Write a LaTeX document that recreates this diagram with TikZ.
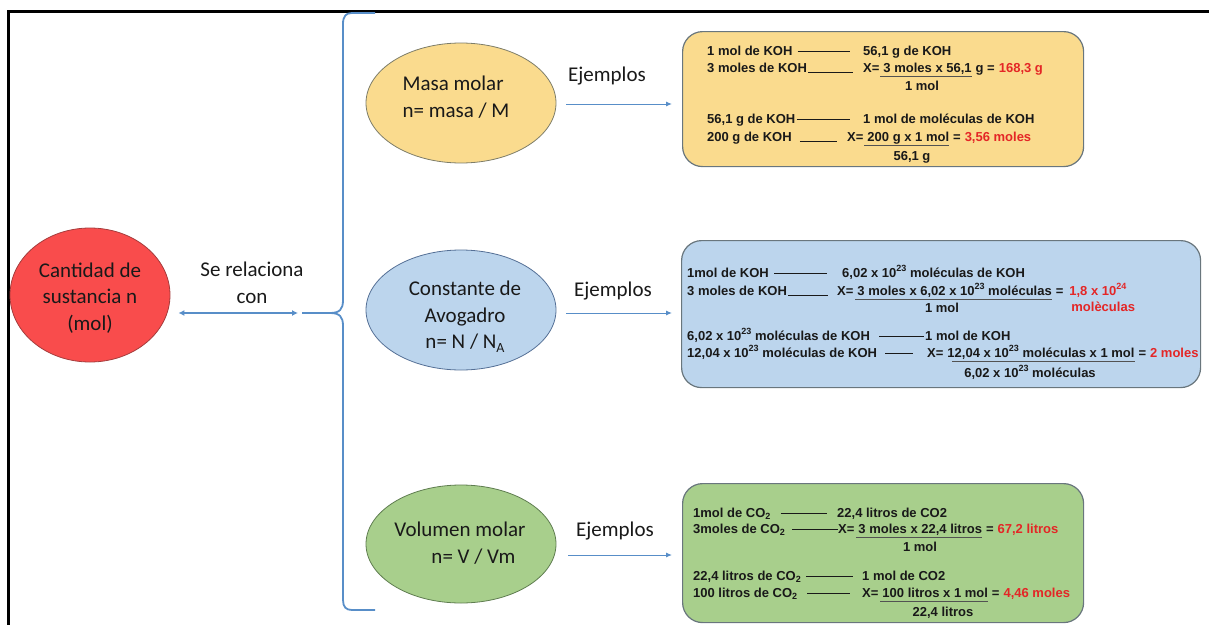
\documentclass[tikz,border=0pt]{standalone}
\usepackage{fontspec}
\setmainfont{Carlito}
\newfontfamily\arial{Liberation Sans}
\usetikzlibrary{shapes.geometric,arrows.meta}
\definecolor{redfill}{RGB}{249,76,76}
\definecolor{redline}{RGB}{165,60,60}
\definecolor{yelfill}{RGB}{250,219,142}
\definecolor{yelline}{RGB}{125,125,105}
\definecolor{blufill}{RGB}{188,213,237}
\definecolor{bluline}{RGB}{85,112,150}
\definecolor{grnfill}{RGB}{168,207,140}
\definecolor{grnline}{RGB}{95,125,80}
\definecolor{boxgray}{RGB}{105,118,125}
\definecolor{linkblue}{RGB}{88,142,200}
\definecolor{resred}{RGB}{228,38,38}
\definecolor{txt}{RGB}{25,25,25}
\newcommand\supx[1]{\raisebox{0.42em}{\fontsize{9}{9}\selectfont #1}}
\newcommand\subx[1]{\raisebox{-0.22em}{\fontsize{9}{9}\selectfont #1}}
\newcommand\tsp{\ \null}
\begin{document}
\begin{tikzpicture}[x=1pt,y=-1pt,
  ell/.style={ellipse, inner sep=0, line width=0.8pt, minimum width=190pt, minimum height=120pt},
  lbl/.style={font=\fontsize{21}{26.5}\selectfont, text=txt, inner sep=0, align=center},
  exbox/.style={rounded corners=20pt, line width=1.2pt, draw=boxgray, inner sep=0, anchor=north west},
  t/.style={anchor=base west, inner sep=0, font=\arial\bfseries\fontsize{13}{15}\selectfont, text=txt},
  tc/.style={t, anchor=base},
  res/.style={t, text=resred},
  rl/.style={line width=0.8pt, draw=txt},
  fl/.style={line width=0.7pt, draw=txt!75},
  conn/.style={draw=linkblue, line width=1pt, -{Latex[length=6pt,width=5pt]}},
  brace/.style={draw=linkblue, line width=1.8pt, line join=round}]
\useasboundingbox (0,0) rectangle (1209,624);
% frame
\draw[line width=2.6pt] (8.5,630) -- (8.5,11.5) -- (1215,11.5);

% left ellipse
\node[ell, fill=redfill, draw=redline, minimum width=160pt, minimum height=134pt] (cant) at (90,295) {};
\node[lbl] (cantT) at (90,298) {Cantidad de\\sustancia n\\(mol)};
\node[lbl] (rel) at (252,283) {Se relaciona\\con};

% brace
\coordinate (btip) at (302,313);
\draw[brace] (375,13) -- (352,13) .. controls (346,13) and (343,16) .. (343,24) -- (343,300)
  .. controls (343,309) and (340,313) .. (330,313) -- (btip);
\draw[brace] (330,313) .. controls (340,313) and (343,317) .. (343,326) -- (343,600)
  .. controls (343,607) and (346,610) .. (352,610) -- (375,610);
\draw[draw=linkblue, line width=1.5pt, {Latex[length=6pt,width=6pt]}-{Latex[length=6pt,width=6pt]}]
  ([shift={(8pt,-18pt)}]cant.east) -- ([xshift=-4pt]btip);

% ellipses
\node[ell, fill=yelfill, draw=yelline] (masa) at (461,103) {};
\node[lbl, align=left] (masaT) at (456,97) {Masa molar\\n= masa / M};
\node[ell, fill=blufill, draw=bluline] (avo) at (461,310) {};
\node[lbl] (avoT) at (465,317) {Constante de\\Avogadro\\n= N / N\raisebox{-0.2em}{\fontsize{14}{14}\selectfont A}};
\node[ell, fill=grnfill, draw=grnline, minimum height=118pt] (vol) at (461,544) {};
\node[lbl, align=left] (volT) at (460,543) {Volumen molar\\\hspace*{37pt}n= V / Vm};

% boxes
\node[exbox, fill=yelfill, minimum width=401pt, minimum height=135pt] (ybox) at (682,31) {};
\node[exbox, fill=blufill, minimum width=519pt, minimum height=147pt] (bbox) at (681,240) {};
\node[exbox, fill=grnfill, minimum width=401pt, minimum height=139pt] (gbox) at (682,483) {};

% Ejemplos
\node[lbl] (ej1) at (607,76) {Ejemplos};
\node[lbl] (ej2) at (613,291) {Ejemplos};
\node[lbl] (ej3) at (615,531) {Ejemplos};
\draw[conn] ([shift={(10pt,-1pt)}]masa.east) -- ([shift={(-10pt,-1pt)}]masa.east -| ybox.west);
\draw[conn] ([shift={(10pt,-3pt)}]avo.east) -- ([shift={(-9pt,-3pt)}]avo.east -| bbox.west);
\draw[conn] ([shift={(12pt,-11pt)}]vol.east) -- ([shift={(-10pt,-11pt)}]vol.east -| gbox.west);

% ---- yellow box text
\node[t] (y1a) at (707,55) {1 mol de KOH};
\node[t] (y1b) at (863,55) {56,1 g de KOH};
\draw[rl] ([shift={(5pt,4pt)}]y1a.base east) -- ([shift={(-13pt,4pt)}]y1b.base west);
\node[t] (y2a) at (707,72) {3 moles de KOH};
\node[t] (y2x) at (863,72) {X=\tsp};
\node[t] (y2n) at (y2x.base east) {3 moles x 56,1};
\node[t] (y2c) at (y2n.base east) {\ g =\tsp};
\node[res] (y2r) at (y2c.base east) {168,3 g};
\draw[rl] ([xshift=1pt]y2a.base east) -- ([xshift=-10pt]y2x.base west);
\draw[fl] ([shift={(-3pt,-4.5pt)}]y2n.base west) -- ([yshift=-4.5pt]y2n.base east);
\node[tc] (y3) at (922,90) {1 mol};
\node[t] (y4a) at (707,123) {56,1 g de KOH};
\node[t] (y4b) at (863,123) {1 mol de moléculas de KOH};
\draw[rl] ([shift={(1pt,4pt)}]y4a.base east) -- ([shift={(-13pt,4pt)}]y4b.base west);
\node[t] (y5a) at (707,141) {200 g de KOH};
\node[t] (y5x) at (847,141) {X=\tsp};
\node[t] (y5n) at (y5x.base east) {200 g x 1 mol};
\node[t] (y5c) at (y5n.base east) {\ =\tsp};
\node[res] (y5r) at (y5c.base east) {3,56 moles};
\draw[rl] ([xshift=8pt]y5a.base east) -- ([xshift=-10pt]y5x.base west);
\draw[fl] ([shift={(-3pt,-4.5pt)}]y5n.base west) -- ([yshift=-4.5pt]y5n.base east);
\node[tc] (y6) at (912,160) {56,1 g};

% ---- blue box text
\node[t] (b1a) at (687,277) {1mol de KOH};
\node[t] (b1b) at (842,277) {6,02 x 10\supx{23} moléculas de KOH};
\draw[rl] ([shift={(5pt,4pt)}]b1a.base east) -- ([shift={(-15pt,4pt)}]b1b.base west);
\node[t] (b2a) at (687,295) {3 moles de KOH};
\node[t] (b2x) at (837,295) {X=\tsp};
\node[t] (b2n) at (b2x.base east) {3 moles x 6,02 x 10\supx{23} moléculas};
\node[t] (b2c) at (b2n.base east) {\ =\tsp};
\node[res] (b2r) at ([xshift=2pt]b2c.base east) {1,8 x 10\supx{24}};
\node[res] (b2s) at ([shift={(2pt,-16pt)}]b2r.base west) {molèculas};
\draw[rl] ([xshift=1pt]b2a.base east) -- ([xshift=-9pt]b2x.base west);
\draw[fl] ([shift={(-2pt,-4.5pt)}]b2n.base west) -- ([yshift=-4.5pt]b2n.base east);
\node[tc] (b3) at (942,312) {1 mol};
\node[t] (b4a) at (687,340) {6,02 x 10\supx{23} moléculas de KOH};
\node[t] (b4b) at (925,340) {1 mol de KOH};
\draw[rl] ([shift={(9pt,4pt)}]b4a.base east) -- ([shift={(-1pt,4pt)}]b4b.base west);
\node[t] (b5a) at (687,357) {12,04 x 10\supx{23} moléculas de KOH};
\node[t] (b5x) at (927,357) {X=\tsp};
\node[t] (b5n) at (b5x.base east) {12,04 x 10\supx{23} moléculas x 1 mol};
\node[t] (b5c) at (b5n.base east) {\ =\tsp};
\node[res] (b5r) at (b5c.base east) {2 moles};
\draw[rl] ([shift={(8pt,4pt)}]b5a.base east) -- ([shift={(-14pt,4pt)}]b5x.base west);
\draw[fl] ([shift={(5pt,-4.5pt)}]b5n.base west) -- ([yshift=-4.5pt]b5n.base east);
\node[tc] (b6) at (1030,377) {6,02 x 10\supx{23} moléculas};

% ---- green box text
\node[t] (g1a) at (693,517) {1mol de CO\subx{2}};
\node[t] (g1b) at (837,517) {22,4 litros de CO2};
\draw[rl] ([shift={(10pt,4pt)}]g1a.base east) -- ([shift={(-10pt,4pt)}]g1b.base west);
\node[t] (g2a) at (693,533) {3moles de CO\subx{2}};
\node[t] (g2x) at (838,533) {X=\tsp};
\node[t] (g2n) at (g2x.base east) {3 moles x 22,4 litros};
\node[t] (g2c) at (g2n.base east) {\ =\tsp};
\node[res] (g2r) at (g2c.base east) {67,2 litros};
\draw[rl] ([shift={(7pt,4pt)}]g2a.base east) -- ([shift={(0pt,4pt)}]g2x.base west);
\draw[fl] ([shift={(-2pt,-4.5pt)}]g2n.base west) -- ([yshift=-4.5pt]g2n.base east);
\node[tc] (g3) at (920,551) {1 mol};
\node[t] (g4a) at (693,580) {22,4 litros de CO\subx{2}};
\node[t] (g4b) at (862,580) {1 mol de CO2};
\draw[rl] ([shift={(5pt,4pt)}]g4a.base east) -- ([shift={(-9pt,4pt)}]g4b.base west);
\node[t] (g5a) at (693,597) {100 litros de CO\subx{2}};
\node[t] (g5x) at (862,597) {X=\tsp};
\node[t] (g5n) at (g5x.base east) {100 litros x 1 mol};
\node[t] (g5c) at (g5n.base east) {\ =\tsp};
\node[res] (g5r) at (g5c.base east) {4,46 moles};
\draw[rl] ([shift={(10pt,4pt)}]g5a.base east) -- ([shift={(-12pt,4pt)}]g5x.base west);
\draw[fl] ([shift={(-2pt,-4.5pt)}]g5n.base west) -- ([yshift=-4.5pt]g5n.base east);
\node[tc] (g6) at (943,616) {22,4 litros};
\end{tikzpicture}
\end{document}
